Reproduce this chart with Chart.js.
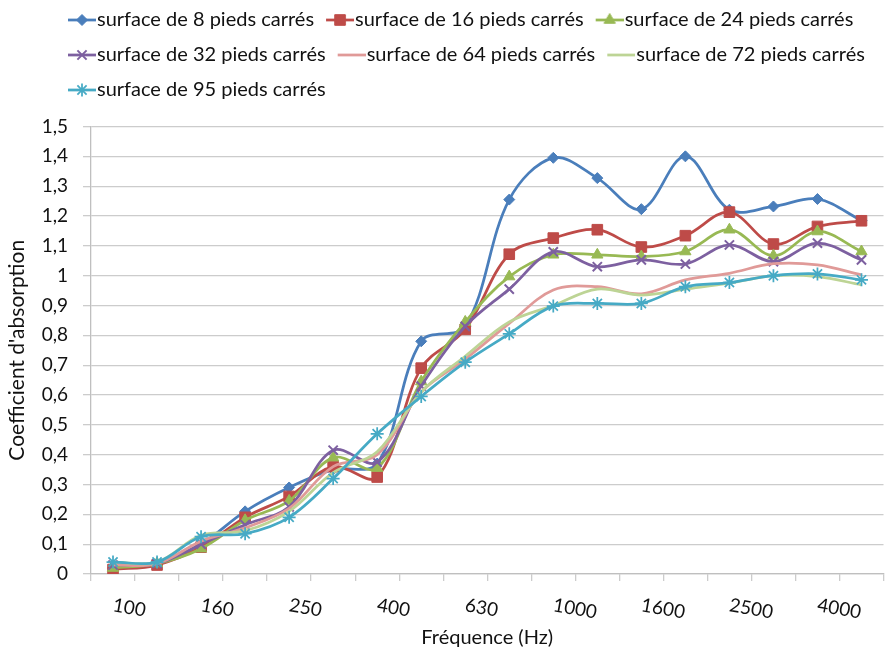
<!DOCTYPE html>
<html>
<head>
<meta charset="utf-8">
<script src="https://cdn.jsdelivr.net/npm/chart.js@4.4.1/dist/chart.umd.min.js"></script>
<style>
html,body{margin:0;padding:0;background:#fff;overflow:hidden;width:885px;height:654px}
#wrap{position:absolute;left:0;top:0;width:892px;height:654px}
</style>
</head>
<body>
<div id="wrap"><canvas id="c"></canvas></div>
<script>
// ---- data ----
const categories = ['100','125','160','200','250','315','400','500','630','800','1000','1250','1600','2000','2500','3150','4000','5000'];
const xLabelStep = 2;
const yMin = 0, yMax = 1.5, yStep = 0.1;
const seriesNames = ['surface de 8 pieds carrés','surface de 16 pieds carrés','surface de 24 pieds carrés','surface de 32 pieds carrés','surface de 64 pieds carrés','surface de 72 pieds carrés','surface de 95 pieds carrés'];
const s8  = [0.02, 0.035, 0.10, 0.21, 0.29, 0.35, 0.37, 0.78, 0.83, 1.255, 1.395, 1.327, 1.223, 1.40, 1.221, 1.232, 1.257, 1.185];
const s16 = [0.015, 0.03, 0.09, 0.19, 0.26, 0.36, 0.325, 0.69, 0.82, 1.072, 1.126, 1.154, 1.096, 1.134, 1.213, 1.106, 1.165, 1.184];
const s24 = [0.02, 0.035, 0.085, 0.18, 0.245, 0.39, 0.355, 0.645, 0.845, 0.997, 1.07, 1.07, 1.064, 1.081, 1.154, 1.067, 1.148, 1.081];
const s32 = [0.03, 0.035, 0.10, 0.165, 0.225, 0.415, 0.375, 0.63, 0.83, 0.955, 1.08, 1.03, 1.053, 1.039, 1.103, 1.047, 1.109, 1.053];
const s64 = [0.03, 0.035, 0.11, 0.155, 0.22, 0.36, 0.40, 0.61, 0.72, 0.84, 0.952, 0.963, 0.939, 0.986, 1.008, 1.04, 1.036, 1.003];
const s72 = [0.04, 0.04, 0.13, 0.145, 0.21, 0.34, 0.41, 0.61, 0.73, 0.845, 0.90, 0.955, 0.935, 0.955, 0.975, 1.0, 0.997, 0.969];
const s95 = [0.04, 0.04, 0.125, 0.135, 0.19, 0.32, 0.47, 0.595, 0.71, 0.805, 0.898, 0.907, 0.907, 0.963, 0.977, 1.0, 1.006, 0.986];
const seriesValues = [s8, s16, s24, s32, s64, s72, s95];

// ---- styles ----
const colors = ['#4A7EBB','#BE4B48','#98B954','#7D60A0','#E09A98','#BDD495','#46AAC5'];
const markers = [
  {style:'rectRot', r:5.5, bw:1},
  {style:'rect', r:7.5, bw:1},
  {style:'triangle', r:6.5, bw:1},
  {style:'crossRot', r:6.5, bw:2},
  null,
  null,
  {style:'star', r:6.5, bw:1.75}
];
const FONT = 'Lato';
const TEXT = '#111111';
const GRID = '#cccccc';

function legendIcon(color, m) {
  const cv = document.createElement('canvas');
  cv.width = 34; cv.height = 20;
  const c = cv.getContext('2d');
  c.strokeStyle = color; c.lineWidth = 2.75;
  c.beginPath(); c.moveTo(6, 10); c.lineTo(34, 10); c.stroke();
  if (m) {
    c.fillStyle = color; c.strokeStyle = color; c.lineWidth = m.bw;
    if (Chart.helpers && Chart.helpers.drawPoint) {
      Chart.helpers.drawPoint(c, {pointStyle: m.style, radius: m.r, borderWidth: m.bw, rotation: 0}, 20, 10);
    } else {
      c.beginPath(); c.arc(20, 10, m.r * 0.7, 0, Math.PI * 2); c.fill();
    }
  }
  return cv;
}

const tweaks = {
  id: 'tweaks',
  beforeLayout(chart) {
    const lg = chart.legend;
    if (lg && !lg._tw) {
      const f = lg.fit;
      lg.fit = function () { f.call(this); this.height = 126.5; };
      lg._tw = true;
    }
  },
  afterLayout(chart) {
    const lg = chart.legend;
    if (lg) { lg.left = 56; lg.top = -5; lg.right = 905; }
  },
  afterDraw(chart) {
    const sx = chart.scales.x;
    const ctx = chart.ctx;
    ctx.save();
    ctx.font = '19px ' + FONT;
    ctx.fillStyle = TEXT;
    ctx.textAlign = 'left';
    ctx.textBaseline = 'alphabetic';
    sx.ticks.forEach((t, i) => {
      if (i % xLabelStep) return;
      const x = sx.getPixelForTick(i);
      ctx.save();
      ctx.translate(x - 1, sx.top + 37);
      ctx.rotate(10 * Math.PI / 180);
      ctx.fillText(categories[i], 0, 0);
      ctx.restore();
    });
    ctx.restore();
  }
};

function build() {
  const datasets = seriesValues.map((vals, i) => {
    const m = markers[i];
    return {
      label: seriesNames[i],
      data: vals,
      borderColor: colors[i],
      backgroundColor: colors[i],
      borderWidth: 2.75,
      tension: 0.35,
      pointStyle: m ? m.style : 'circle',
      pointRadius: m ? m.r : 0,
      pointBorderWidth: m ? m.bw : 0,
      pointBackgroundColor: colors[i],
      pointBorderColor: colors[i],
      order: seriesValues.length - 1 - i,
      _icon: legendIcon(colors[i], m)
    };
  });

  new Chart(document.getElementById('c'), {
    type: 'line',
    data: { labels: categories, datasets },
    plugins: [tweaks],
    options: {
      responsive: true,
      maintainAspectRatio: false,
      animation: false,
      layout: { padding: 0 },
      plugins: {
        tooltip: { enabled: false },
        legend: {
          position: 'top',
          align: 'start',
          labels: {
            font: { family: FONT, size: 20 },
            color: TEXT,
            padding: 15,
            usePointStyle: true,
            pointStyleWidth: 16,
            sort: (a, b) => a.datasetIndex - b.datasetIndex,
            generateLabels(chart) {
              return chart.data.datasets.map((ds, i) => ({
                text: ds.label,
                datasetIndex: i,
                pointStyle: ds._icon,
                fillStyle: ds.borderColor,
                strokeStyle: ds.borderColor,
                lineWidth: 0,
                fontColor: TEXT,
                hidden: false
              }));
            }
          }
        }
      },
      scales: {
        x: {
          type: 'category',
          offset: true,
          afterFit(s) { s.height = 80; },
          grid: { offset: true, drawOnChartArea: false, drawTicks: true, tickLength: 7, color: GRID, lineWidth: 1.3 },
          border: { display: true, color: '#bfbfbf', width: 1.3 },
          ticks: { display: false, autoSkip: false },
          title: { display: true, text: 'Fréquence (Hz)', color: TEXT, font: { family: FONT, size: 20 }, padding: { top: 0, bottom: 4 } }
        },
        y: {
          min: yMin, max: yMax,
          afterFit(s) { s.width = 91; },
          grid: { color: GRID, lineWidth: 1.3, drawTicks: true, tickLength: 8 },
          border: { display: true, color: '#bfbfbf', width: 1.3 },
          ticks: {
            stepSize: yStep,
            color: TEXT,
            padding: 15,
            font: { family: FONT, size: 19 },
            callback: v => String(Math.round(v * 10) / 10).replace('.', ',')
          },
          title: { display: true, text: "Coefficient d'absorption", color: TEXT, font: { family: FONT, size: 21 }, padding: { top: 5, bottom: 0 } }
        }
      }
    }
  });
}

const ready = (document.fonts && document.fonts.load)
  ? Promise.all([document.fonts.load('20px ' + FONT), document.fonts.load('19px ' + FONT), document.fonts.load('21px ' + FONT)]).catch(() => {})
  : Promise.resolve();
ready.then(build);
</script>
</body>
</html>
